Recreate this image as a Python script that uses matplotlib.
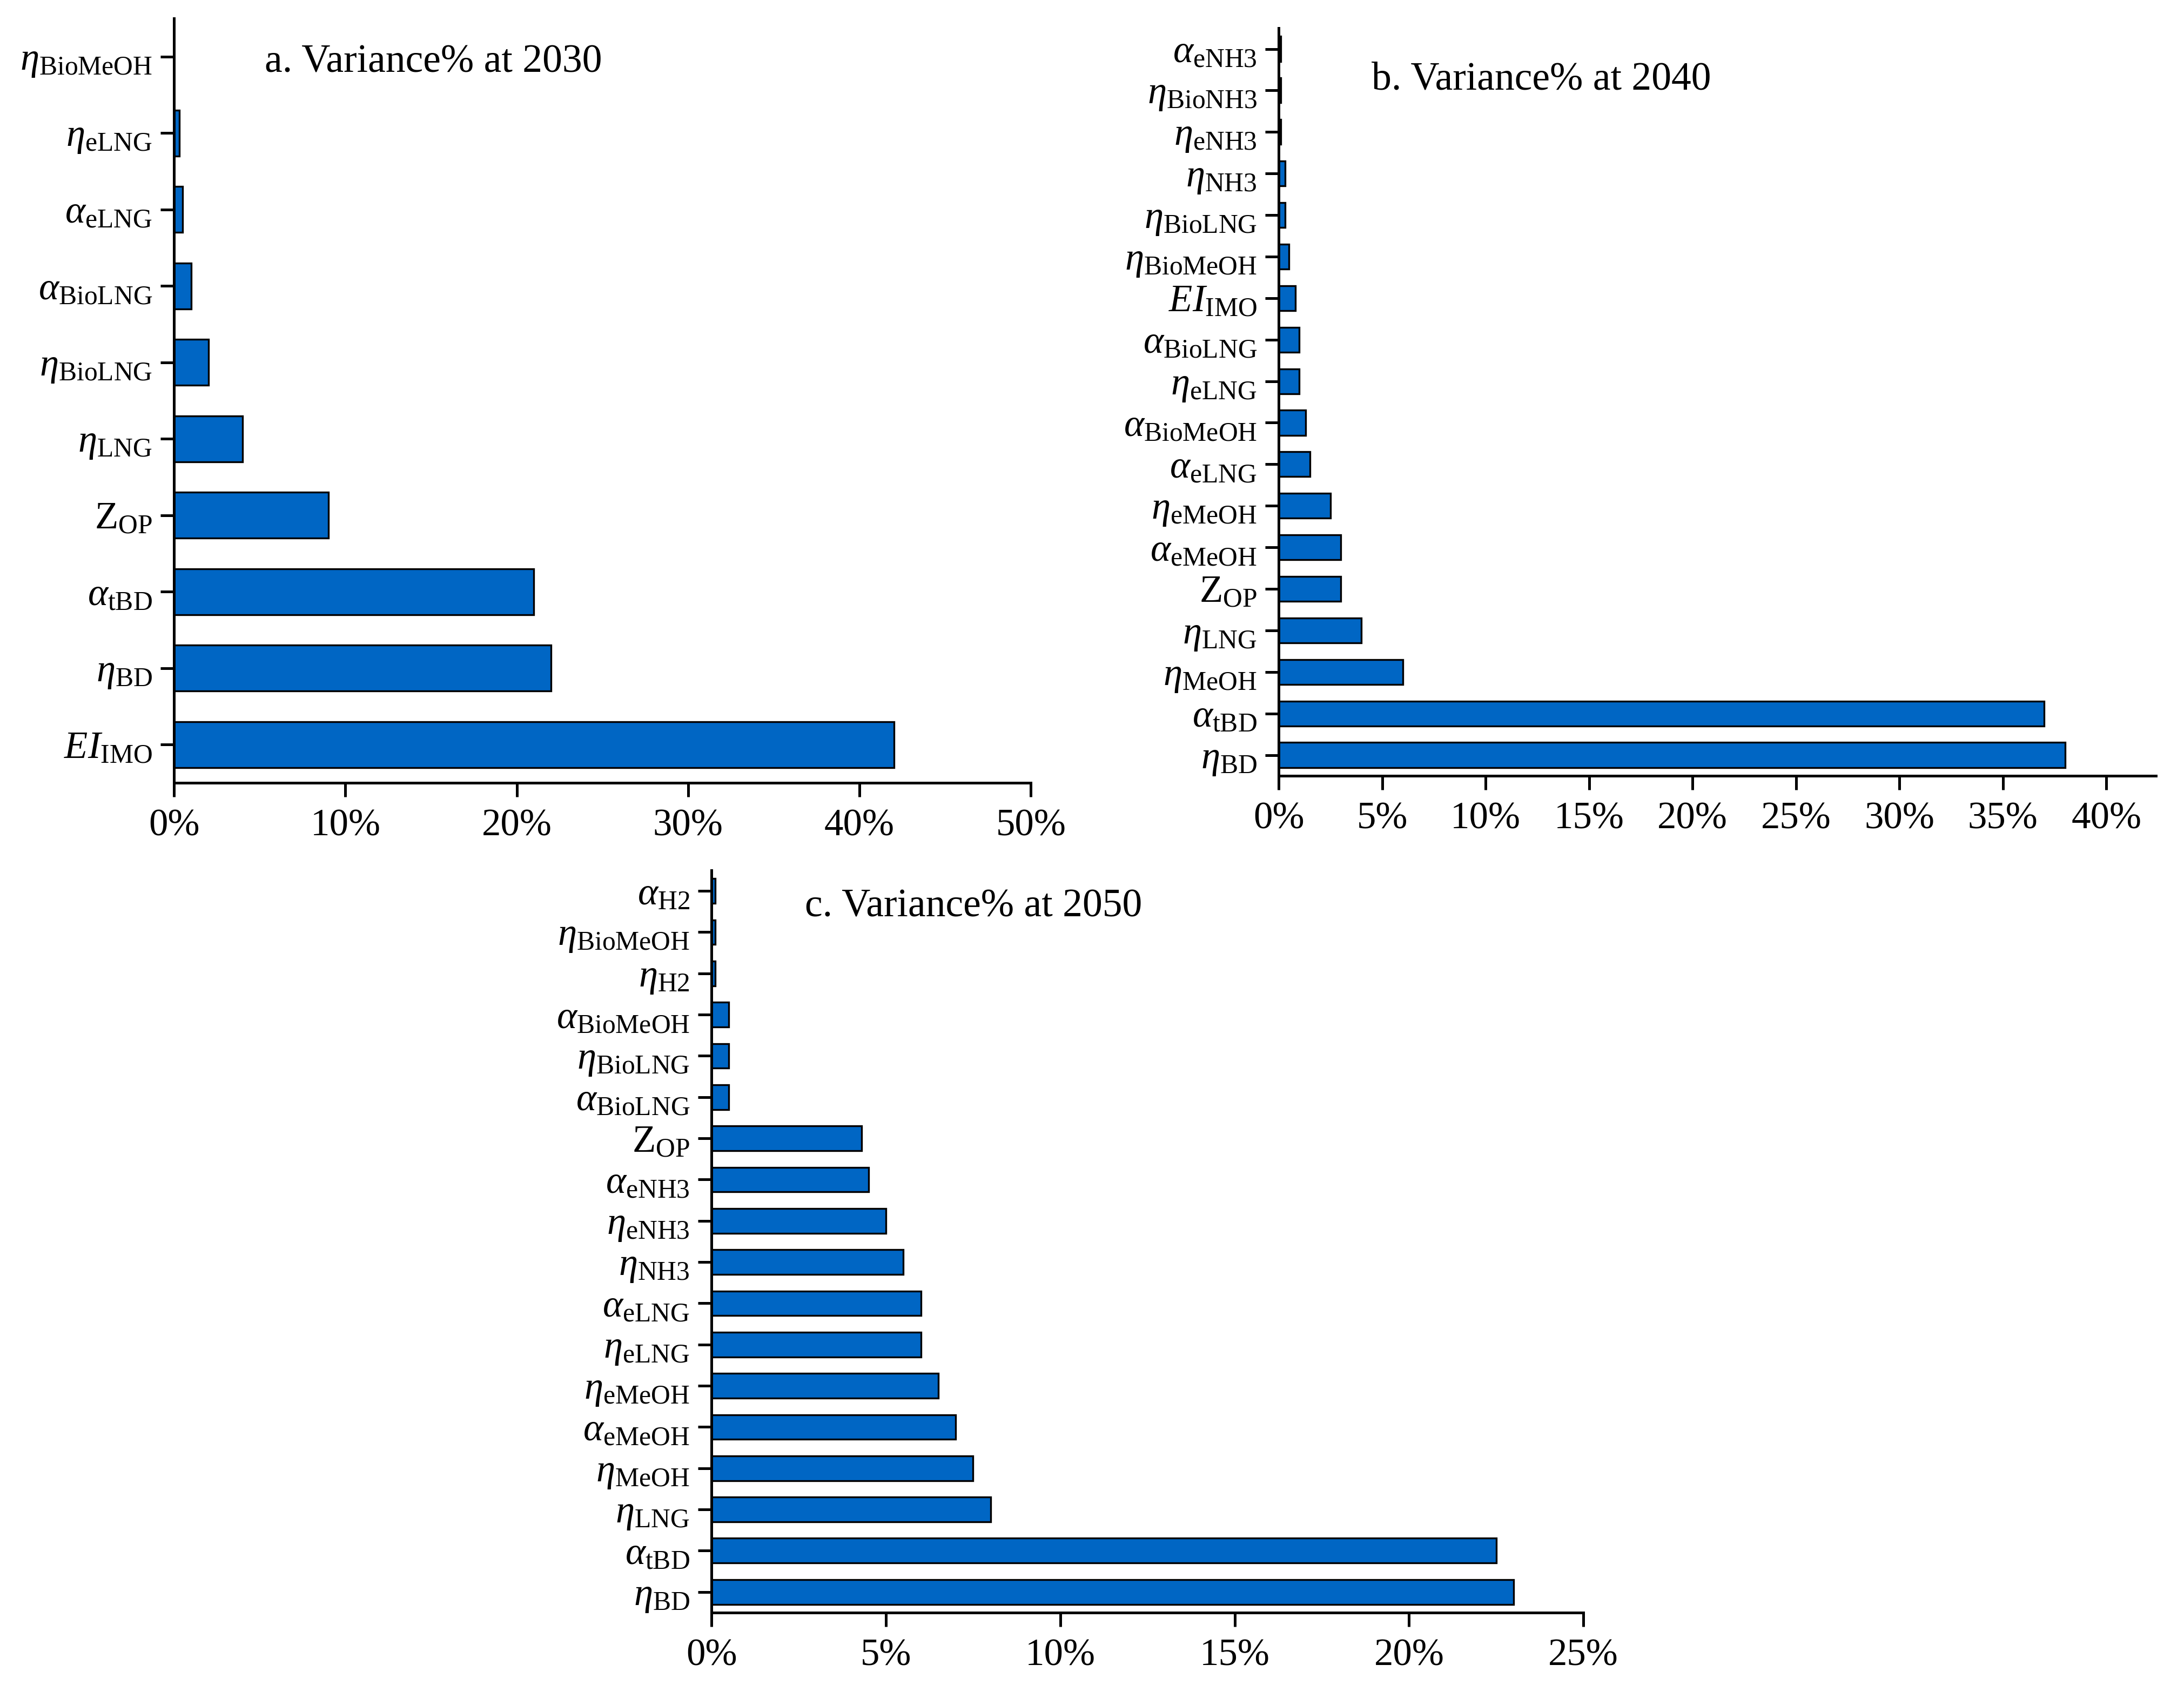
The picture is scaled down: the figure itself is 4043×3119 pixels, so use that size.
import matplotlib
matplotlib.use("Agg")
import matplotlib.pyplot as plt
from matplotlib.ticker import PercentFormatter, MultipleLocator

plt.rcParams['font.family'] = ['Liberation Serif', 'DejaVu Serif']
plt.rcParams['mathtext.fontset'] = 'custom'
plt.rcParams['mathtext.rm'] = 'Liberation Serif'
plt.rcParams['mathtext.it'] = 'Liberation Serif:italic'
plt.rcParams['mathtext.bf'] = 'Liberation Serif:bold'

# ---- data (bottom to top) ----
labels_2030 = [("EI", "IMO"), ("eta", "BD"), ("alpha", "tBD"), ("Z", "OP"), ("eta", "LNG"),
               ("eta", "BioLNG"), ("alpha", "BioLNG"), ("alpha", "eLNG"), ("eta", "eLNG"),
               ("eta", "BioMeOH")]
values_2030 = [42, 22, 21, 9, 4, 2, 1, 0.5, 0.3, 0.0]

labels_2040 = [("eta", "BD"), ("alpha", "tBD"), ("eta", "MeOH"), ("eta", "LNG"), ("Z", "OP"),
               ("alpha", "eMeOH"), ("eta", "eMeOH"), ("alpha", "eLNG"), ("alpha", "BioMeOH"),
               ("eta", "eLNG"), ("alpha", "BioLNG"), ("EI", "IMO"), ("eta", "BioMeOH"),
               ("eta", "BioLNG"), ("eta", "NH3"), ("eta", "eNH3"), ("eta", "BioNH3"),
               ("alpha", "eNH3")]
values_2040 = [38, 37, 6, 4, 3, 3, 2.5, 1.5, 1.3, 1.0, 1.0, 0.8, 0.5, 0.3, 0.3, 0.1, 0.1, 0.1]

labels_2050 = [("eta", "BD"), ("alpha", "tBD"), ("eta", "LNG"), ("eta", "MeOH"), ("alpha", "eMeOH"),
               ("eta", "eMeOH"), ("eta", "eLNG"), ("alpha", "eLNG"), ("eta", "NH3"),
               ("eta", "eNH3"), ("alpha", "eNH3"), ("Z", "OP"), ("alpha", "BioLNG"),
               ("eta", "BioLNG"), ("alpha", "BioMeOH"), ("eta", "H2"), ("eta", "BioMeOH"),
               ("alpha", "H2")]
values_2050 = [23, 22.5, 8, 7.5, 7, 6.5, 6, 6, 5.5, 5, 4.5, 4.3, 0.5, 0.5, 0.5, 0.1, 0.1, 0.1]

titles = ["a. Variance% at 2030", "b. Variance% at 2040", "c. Variance% at 2050"]
xmax = [50, 42.4, 25]
xstep = [10, 5, 5]


def mk(sym, sub):
    if sym == "eta":
        base = r"\eta"
    elif sym == "alpha":
        base = r"\alpha"
    elif sym == "Z":
        base = r"\mathrm{Z}"
    else:
        base = sym
    return r"$%s_{\mathrm{%s}}$" % (base, sub)


FS = 51
BAR = "#0066C4"

fig = plt.figure(figsize=(40.43, 31.19), dpi=100)
positions = [
    [0.0797, 0.5354, 0.3923, 0.4537],
    [0.5855, 0.5396, 0.4017, 0.4437],
    [0.3258, 0.0430, 0.3992, 0.4405],
]
title_pos = [(0.106, 0.942), (0.106, 0.931), (0.107, 0.951)]
datasets = [(labels_2030, values_2030), (labels_2040, values_2040), (labels_2050, values_2050)]

for i, (labs, vals) in enumerate(datasets):
    ax = fig.add_axes(positions[i])
    y = list(range(len(vals)))
    ax.barh(y, vals, height=0.6, color=BAR, edgecolor="black", linewidth=2.4, zorder=3)
    ax.set_yticks(y)
    ax.set_yticklabels([mk(s, sb) for s, sb in labs], fontsize=FS)
    ax.set_ylim(-0.5, len(vals) - 0.5)
    ax.set_xlim(0, xmax[i])
    ax.xaxis.set_major_locator(MultipleLocator(xstep[i]))
    ax.xaxis.set_major_formatter(PercentFormatter(decimals=0))
    ax.tick_params(axis="x", labelsize=FS, width=3.6, length=19, pad=15)
    ax.tick_params(axis="y", labelsize=FS, width=3.6, length=18, pad=11)
    for s in ["top", "right"]:
        ax.spines[s].set_visible(False)
    for s in ["left", "bottom"]:
        ax.spines[s].set_linewidth(3.6)
        ax.spines[s].set_zorder(4)
    ax.text(title_pos[i][0], title_pos[i][1], titles[i], transform=ax.transAxes,
            fontsize=FS * 1.04, ha="left", va="center")

fig.savefig("out.png", dpi=100)
